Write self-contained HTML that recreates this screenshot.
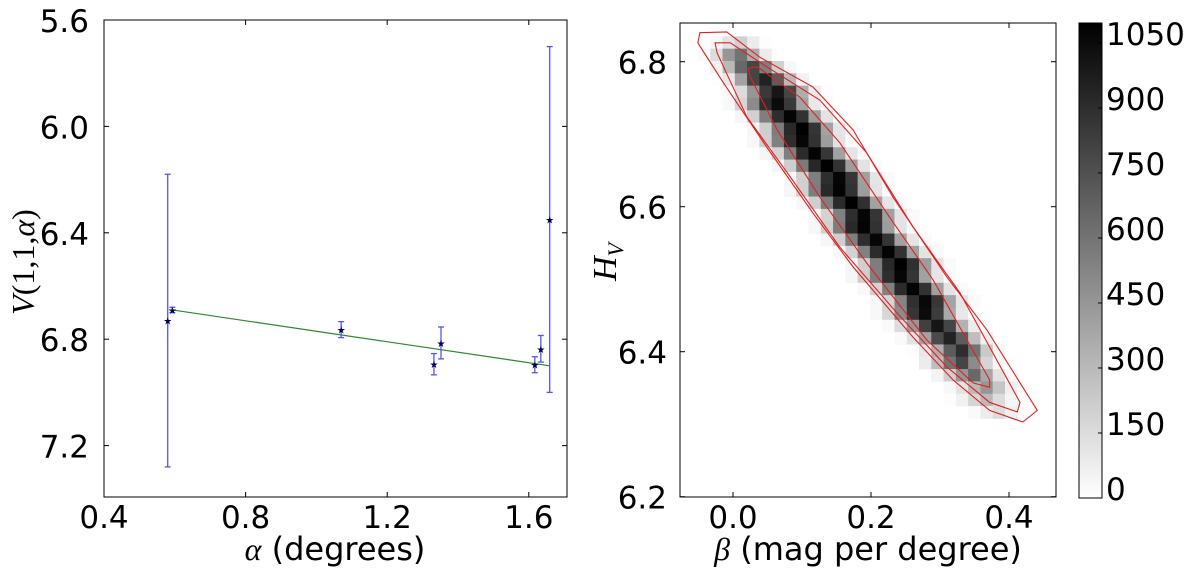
<!DOCTYPE html>
<html><head><meta charset="utf-8"><style>
html,body{margin:0;padding:0;background:#fff;}
svg{display:block;font-family:"DejaVu Sans","Liberation Sans",sans-serif;}
</style></head><body>
<svg id="fig" width="1200" height="575" viewBox="0 0 1200 575" xmlns="http://www.w3.org/2000/svg">
<g id="left"></g>
<g id="right"></g>
<g id="cbar"></g>
</svg>
<script>
// ---- left panel data ----
const alphaVals = [0.58, 0.593, 1.07, 1.332, 1.352, 1.617, 1.634, 1.659];
const magVals   = [6.73, 6.69, 6.764, 6.894, 6.814, 6.896, 6.836, 6.35];
const magErrs   = [0.55, 0.01, 0.03, 0.04, 0.06, 0.03, 0.05, 0.65];
const fitAlpha  = [0.593, 1.659];
const fitMag    = [6.69, 6.90];
const leftXTicks = [0.4, 0.8, 1.2, 1.6];
const leftYTicks = [5.6, 6.0, 6.4, 6.8, 7.2];
// ---- right panel data ----
const rightXTicks = [0.0, 0.2, 0.4];
const rightYTicks = [6.2, 6.4, 6.6, 6.8];
const betaBin0 = -0.033, betaBinW = 0.0178, hBin0 = 6.835, hBinH = 0.017;
const rowStarts = [-2,-2,-1,0,1,1,2,3,3,4,5,6,6,7,8,8,9,10,11,11,12,13,13,14,15,16,16,17,18,18,19];
const rowCounts = [
 [0,0,30,120,200,80,10,0,0],
 [0,20,150,450,600,350,80,10,0],
 [0,60,300,650,800,550,200,30,0],
 [10,100,400,800,950,700,300,60,0],
 [20,150,450,850,1000,800,350,80,10],
 [30,180,500,900,1050,850,400,100,10],
 [40,200,550,900,1080,880,420,120,20],
 [40,210,560,920,1090,870,400,110,20],
 [30,200,540,900,1070,880,420,120,20],
 [40,190,550,910,1080,860,400,110,20],
 [40,210,570,930,1090,880,420,120,20],
 [30,200,550,900,1070,870,410,110,20],
 [40,200,560,920,1080,880,420,120,20],
 [40,210,550,910,1090,890,400,110,20],
 [30,190,540,900,1070,870,410,120,20],
 [40,200,560,920,1080,880,420,120,20],
 [40,210,550,900,1070,870,400,110,20],
 [30,190,540,910,1080,880,410,120,20],
 [40,200,560,920,1090,890,420,120,20],
 [40,210,550,900,1070,870,400,110,20],
 [30,190,540,910,1080,880,410,120,20],
 [30,180,530,890,1060,860,390,110,20],
 [30,170,500,870,1050,840,370,100,10],
 [20,150,450,820,1000,800,330,80,10],
 [20,120,400,780,950,700,280,60,0],
 [10,100,350,700,900,600,230,40,0],
 [0,80,280,600,800,500,180,30,0],
 [0,50,200,450,650,380,120,20,0],
 [0,30,120,300,450,250,70,10,0],
 [0,10,60,180,300,150,40,0,0],
 [0,0,20,80,150,60,10,0,0]
];
const contourOuter = [[-0.048,6.840],[-0.009,6.841],[0.039,6.806],[0.116,6.765],[0.174,6.706],[0.232,6.613],[0.310,6.503],[0.368,6.430],[0.441,6.319],[0.420,6.303],[0.372,6.319],[0.319,6.361],[0.261,6.420],[0.174,6.517],[0.116,6.591],[0.049,6.682],[-0.014,6.771],[-0.051,6.826]];
const contourMiddle = [[-0.026,6.826],[-0.004,6.826],[0.049,6.793],[0.126,6.747],[0.194,6.674],[0.261,6.572],[0.329,6.481],[0.416,6.330],[0.412,6.317],[0.372,6.330],[0.310,6.379],[0.238,6.453],[0.155,6.544],[0.083,6.641],[0.020,6.724],[-0.023,6.812]];
const contourInner = [[0.022,6.791],[0.035,6.793],[0.097,6.751],[0.155,6.688],[0.223,6.591],[0.290,6.499],[0.372,6.361],[0.372,6.351],[0.348,6.357],[0.281,6.416],[0.194,6.522],[0.126,6.613],[0.064,6.706],[0.025,6.779]];
const cbarTicks = [0,150,300,450,600,750,900,1050];
const cbarMax = 1096;

const NS = "http://www.w3.org/2000/svg";
function mk(parent, tag, attrs, text){
  const e = document.createElementNS(NS, tag);
  for (const k in attrs) e.setAttribute(k, attrs[k]);
  if (text !== undefined) e.textContent = text;
  parent.appendChild(e); return e;
}
// ---- left axes ----
const L = {x0:104, x1:567, y0:20, y1:497};
const lx = a => L.x0 + (a - 0.4) * 354;
const ly = v => L.y0 + (v - 5.6) * 266;
const gl = document.getElementById('left');
leftXTicks.forEach(t => {
  const x = lx(t);
  let e = mk(gl,'line',{x1:x,x2:x,y1:L.y1,y2:L.y1-5,stroke:'#000','stroke-width':1});
   
  e = mk(gl,'line',{x1:x,x2:x,y1:L.y0,y2:L.y0+5,stroke:'#000','stroke-width':1});
   
  e = mk(gl,'text',{x:x,y:528,'text-anchor':'middle','font-size':31},t.toFixed(1));
   
});
leftYTicks.forEach(t => {
  const y = ly(t);
  let e = mk(gl,'line',{x1:L.x0,x2:L.x0+5,y1:y,y2:y,stroke:'#000','stroke-width':1});
   
  e = mk(gl,'line',{x1:L.x1,x2:L.x1-5,y1:y,y2:y,stroke:'#000','stroke-width':1});
   
  e = mk(gl,'text',{x:89,y:y+12,'text-anchor':'end','font-size':31},t.toFixed(1));
   
});
let fl = mk(gl,'line',{x1:lx(fitAlpha[0]),y1:ly(fitMag[0]),x2:lx(fitAlpha[1]),y2:ly(fitMag[1]),stroke:'#2a8a2a','stroke-width':1.2});
 
alphaVals.forEach((a,i) => {
  const x = lx(a), yt = ly(magVals[i]-magErrs[i]), yb = ly(magVals[i]+magErrs[i]), y = ly(magVals[i]);
  const g = mk(gl,'g',{});
   
  mk(g,'line',{x1:x,x2:x,y1:yt,y2:yb,stroke:'#5555ee','stroke-width':1.3});
  mk(g,'line',{x1:x-3,x2:x+3,y1:yt,y2:yt,stroke:'#5555ee','stroke-width':1.3});
  mk(g,'line',{x1:x-3,x2:x+3,y1:yb,y2:yb,stroke:'#5555ee','stroke-width':1.3});
  mk(g,'text',{x:x,y:y+4,'text-anchor':'middle','font-size':10,fill:'#000050'},'★');
});
let fr = mk(gl,'rect',{x:L.x0,y:L.y0,width:L.x1-L.x0,height:L.y1-L.y0,fill:'none',stroke:'#000','stroke-width':1});
 
let t1 = mk(gl,'text',{x:335,y:560,'text-anchor':'middle','font-size':32});
 
t1.innerHTML = '<tspan font-family="Liberation Serif, serif" font-style="italic">α</tspan> (degrees)';
let t2 = mk(gl,'text',{x:0,y:0,'text-anchor':'middle','font-size':32,'font-family':'Liberation Serif, serif',transform:'translate(34,262) rotate(-90)'});
 
t2.innerHTML = '<tspan font-style="italic">V</tspan>(1,1,<tspan font-style="italic">α</tspan>)';

// ---- right axes ----
const R = {x0:680, x1:1056, y0:23, y1:497};
const rx = b => 733 + b * 690;
const ry = h => 61.7 + (6.8 - h) * 725;
const gr = document.getElementById('right');
const gh = mk(gr,'g',{});
 
rowCounts.forEach((row,r) => {
  row.forEach((c,j) => {
    if (c <= 0) return;
    const col = rowStarts[r] + j;
    const bL = betaBin0 + col*betaBinW, hT = hBin0 - r*hBinH;
    const v = Math.round(255*(1 - Math.min(c,cbarMax)/cbarMax));
    const cell = mk(gh,'rect',{x:rx(bL),y:ry(hT),width:rx(bL+betaBinW)-rx(bL)+0.4,height:ry(hT-hBinH)-ry(hT)+0.4,fill:`rgb(${v},${v},${v})`});
     
  });
});
[contourOuter, contourMiddle, contourInner].forEach((cs,i) => {
  const p = mk(gr,'polygon',{points:cs.map(q=>rx(q[0])+','+ry(q[1])).join(' '),fill:'none',stroke:'#e02020','stroke-width':1.1});
   
});
rightXTicks.forEach(t => {
  const x = rx(t);
  let e = mk(gr,'line',{x1:x,x2:x,y1:R.y1,y2:R.y1-5,stroke:'#000'});
   
  e = mk(gr,'line',{x1:x,x2:x,y1:R.y0,y2:R.y0+5,stroke:'#000'});
   
  e = mk(gr,'text',{x:x,y:528,'text-anchor':'middle','font-size':31},t.toFixed(1));
   
});
rightYTicks.forEach(t => {
  const y = ry(t);
  let e = mk(gr,'line',{x1:R.x0,x2:R.x0+5,y1:y,y2:y,stroke:'#000'});
   
  e = mk(gr,'line',{x1:R.x1,x2:R.x1-5,y1:y,y2:y,stroke:'#000'});
   
  e = mk(gr,'text',{x:667,y:y+12,'text-anchor':'end','font-size':31},t.toFixed(1));
   
});
let fr2 = mk(gr,'rect',{x:R.x0,y:R.y0,width:R.x1-R.x0,height:R.y1-R.y0,fill:'none',stroke:'#000','stroke-width':1});
 
let t3 = mk(gr,'text',{x:868,y:560,'text-anchor':'middle','font-size':32});
 
t3.innerHTML = '<tspan font-family="Liberation Serif, serif" font-style="italic">β</tspan> (mag per degree)';
let t4 = mk(gr,'text',{x:0,y:0,'text-anchor':'middle','font-size':34,'font-family':'Liberation Serif, serif','font-style':'italic',transform:'translate(616,262) rotate(-90)'});
 
t4.innerHTML = 'H<tspan font-size="22" dy="7">V</tspan>';

// ---- colorbar ----
const gc = document.getElementById('cbar');
const C = {x0:1079, x1:1102, y0:23, y1:498};
const cy = v => C.y1 - v/cbarMax*(C.y1-C.y0);
const defs = mk(gc,'defs',{});
const lg = mk(defs,'linearGradient',{id:'cg',x1:0,y1:1,x2:0,y2:0});
mk(lg,'stop',{offset:0,'stop-color':'#fff'});
mk(lg,'stop',{offset:1,'stop-color':'#000'});
let cb = mk(gc,'rect',{x:C.x0,y:C.y0,width:C.x1-C.x0,height:C.y1-C.y0,fill:'url(#cg)',stroke:'#000','stroke-width':1});
 
cbarTicks.forEach(t => {
  const y = cy(t);
  let e = mk(gc,'line',{x1:C.x1,x2:C.x1-4,y1:y,y2:y,stroke:'#000'});
   
  e = mk(gc,'text',{x:1106,y:y+2,'font-size':31},String(t));
   
});
</script>
</body></html>
